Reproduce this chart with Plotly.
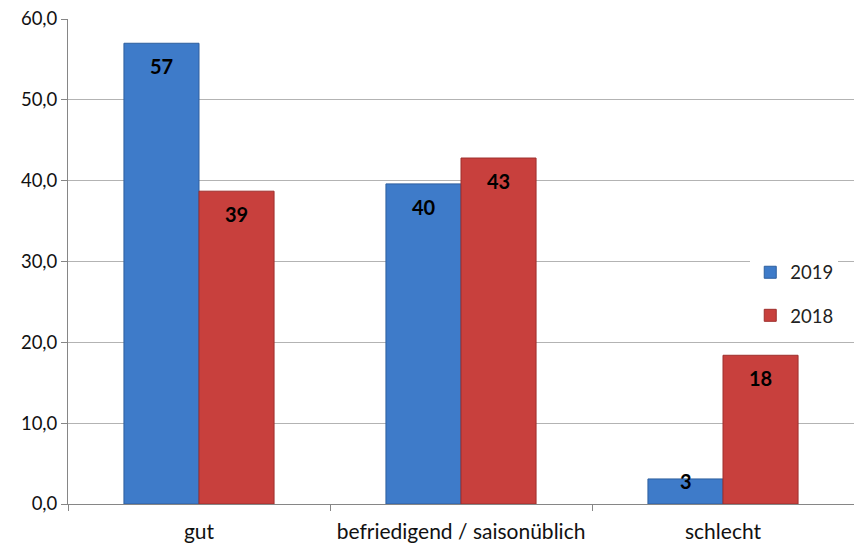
import plotly.graph_objects as go

categories = ["gut", "befriedigend / saisonüblich", "schlecht"]
values_2019 = [57.0, 39.6, 3.1]
values_2018 = [38.7, 42.8, 18.4]
labels_2019 = ["57", "40", "3"]
labels_2018 = ["39", "43", "18"]

FONT = "Lato, Open Sans, sans-serif"
Y_MAX = 60
PLOT_H = 485

fig = go.Figure()
fig.add_trace(go.Bar(
    name="2019", x=categories, y=values_2019,
    marker=dict(color="#3E7BC9", line=dict(color="#2E5F9E", width=1)),
    legendgroup="a",
))
fig.add_trace(go.Bar(
    name="2018", x=categories, y=values_2018,
    marker=dict(color="#C8403D", line=dict(color="#9E2F2D", width=1)),
    legendgroup="b",
))

annotations = []
for vals, labs, xs in [(values_2019, labels_2019, -37.5), (values_2018, labels_2018, 37.5)]:
    for cat, v, lab in zip(categories, vals, labs):
        hpx = v * PLOT_H / Y_MAX
        ys = -23 if hpx > 46 else -2
        annotations.append(dict(
            x=cat, y=v, xref="x", yref="y", text=f"<b>{lab}</b>",
            showarrow=False, xshift=xs, yshift=ys, yanchor="middle",
            font=dict(family=FONT, size=20, color="black"),
        ))

fig.update_layout(
    width=854, height=544,
    margin=dict(l=68, r=0, t=19, b=40),
    paper_bgcolor="white", plot_bgcolor="white",
    barmode="group", bargap=0.427, bargroupgap=0,
    font=dict(family=FONT, size=18, color="#222"),
    annotations=annotations,
    legend=dict(x=0.868, y=0.516, xanchor="left", yanchor="top",
                bgcolor="white", font=dict(size=18.5), tracegroupgap=16,
                itemwidth=30),
    xaxis=dict(showline=True, linecolor="#868686", linewidth=1,
               ticks="outside", ticklen=6, tickcolor="#868686",
               tickson="boundaries", showgrid=False, ticklabelstandoff=9,
               tickfont=dict(size=21, color="#111")),
    yaxis=dict(range=[0, Y_MAX], dtick=10, tickformat=".1f",
               showline=True, linecolor="#868686", linewidth=1,
               ticks="outside", ticklen=6, tickcolor="#868686",
               gridcolor="#b3b3b3", gridwidth=1, zeroline=False,
               tickfont=dict(size=18.5, color="#111")),
    separators=",.",
)

fig.write_html("out.html", config={"displayModeBar": False},
               post_script="document.body.style.margin='0';")
